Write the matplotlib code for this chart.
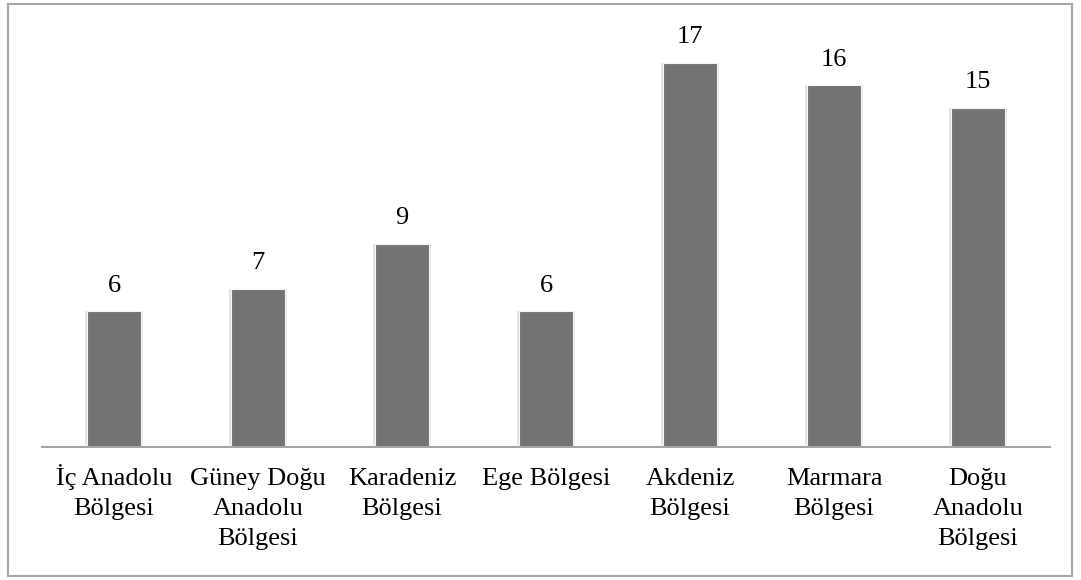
import matplotlib
matplotlib.use("Agg")
import matplotlib.pyplot as plt
import matplotlib.transforms as mtransforms
from matplotlib.patches import Rectangle

categories = ["İç Anadolu\nBölgesi", "Güney Doğu\nAnadolu\nBölgesi", "Karadeniz\nBölgesi",
              "Ege Bölgesi", "Akdeniz\nBölgesi", "Marmara\nBölgesi", "Doğu\nAnadolu\nBölgesi"]
values = [6, 7, 9, 6, 17, 16, 15]

plt.rcParams['font.family'] = ['Liberation Serif', 'DejaVu Serif']

fig = plt.figure(figsize=(10.81, 5.80), dpi=100)
ax = fig.add_axes([42/1081, 1-447/580, 1008/1081, (447-40)/580])

x = list(range(len(values)))
# shadow
ax.bar(x, values, width=0.40, color='#e4e4e4', zorder=1)
ax.bar(x, values, width=0.38, color='#737373', edgecolor='#f5f5f5', linewidth=0.8, zorder=2)
for xi, v in zip(x, values):
    ax.text(xi, v + 0.65, str(v), ha='center', va='bottom', fontsize=19, color='black', clip_on=False)

ax.set_xlim(-0.5, len(values) - 0.5)
ax.set_ylim(0, 18)
ax.set_yticks([])
ax.set_xticks(x)
ax.set_xticklabels([])
ax.tick_params(axis='x', length=0)

base = ax.get_xaxis_transform()
for xi, lab in zip(x, categories):
    for i, line in enumerate(lab.split("\n")):
        tr = mtransforms.offset_copy(base, fig=fig, x=0, y=-(27.4 + 21.6 * i), units='points')
        ax.text(xi, 0, line, transform=tr, ha='center', va='baseline', fontsize=19,
                color='black', clip_on=False)

for s in ['top', 'right', 'left']:
    ax.spines[s].set_visible(False)
ax.spines['bottom'].set_color('#a6a6a6')
ax.spines['bottom'].set_linewidth(1.5)

fig.patches.append(Rectangle((8/1081, 1-576/580), 1064/1081, 572/580, transform=fig.transFigure,
                             fill=False, edgecolor='#a6a6a6', linewidth=1.5))

fig.savefig("out.png", dpi=100)
